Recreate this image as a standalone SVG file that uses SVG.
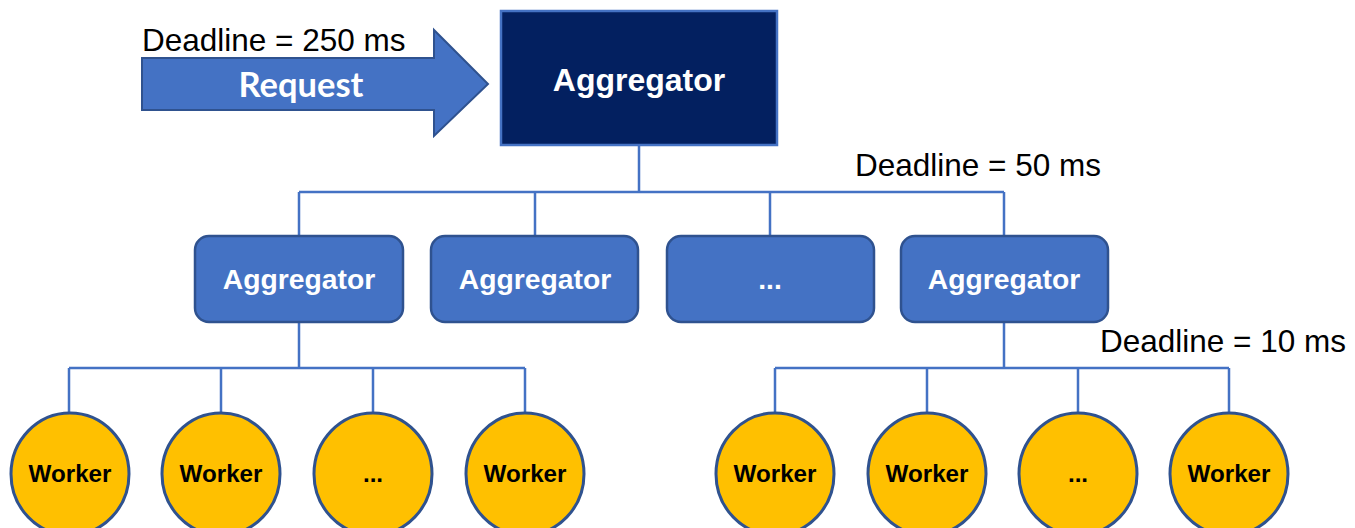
<svg xmlns="http://www.w3.org/2000/svg" width="1355" height="528" viewBox="0 0 1355 528">
  <style>
    .label { font-family: "Liberation Sans", Arial, sans-serif; font-size: 31.5px; fill: #000; }
    .agg-box { fill: #4472C4; stroke: #2F528F; stroke-width: 2.5; }
    .agg-text { font-family: "Liberation Sans", Arial, sans-serif; font-weight: bold; font-size: 28.3px; fill: #fff; text-anchor: middle; }
    .agg-text.root { font-size: 32px; }
    .worker { fill: #FFC000; stroke: #2F528F; stroke-width: 3; }
    .worker-text { font-family: "Liberation Sans", Arial, sans-serif; font-weight: bold; font-size: 24.2px; fill: #000; text-anchor: middle; }
    .wire { fill: none; stroke: #4472C4; stroke-width: 2.5; }
  </style>
  <rect width="1355" height="528" fill="#fff"/>

  <!-- connectors -->
  <g id="connectors" class="wire">
    <path d="M639 145 V192 M299 192 H1004 M299 192 V236 M535 192 V236 M770 192 V236 M1004 192 V236"/>
    <path d="M299 322 V368 M69 368 H525 M69 368 V413 M221 368 V413 M373 368 V413 M525 368 V413"/>
    <path d="M1004 322 V368 M775 368 H1229 M775 368 V413 M927 368 V413 M1078 368 V413 M1229 368 V413"/>
  </g>

  <!-- incoming request -->
  <g id="request">
    <polygon points="142,58 434,58 434,30 488,84 434,136 434,110 142,110" fill="#4472C4" stroke="#2F528F" stroke-width="2"/>
    <text x="301" y="97" font-family="Lato, 'Open Sans', sans-serif" font-weight="bold" font-size="34.5" fill="#fff" text-anchor="middle">Request</text>
  </g>
  <text id="deadline-250" class="label" x="142" y="51">Deadline = 250 ms</text>

  <!-- root aggregator -->
  <g id="root-aggregator">
    <rect x="501" y="11" width="276" height="134" fill="#032060" stroke="#4472C4" stroke-width="2.5"/>
    <text class="agg-text root" x="639" y="91">Aggregator</text>
  </g>
  <text id="deadline-50" class="label" x="855" y="176">Deadline = 50 ms</text>

  <!-- mid-level aggregators -->
  <g id="agg-1">
    <rect class="agg-box" x="195" y="236" width="208" height="86" rx="14"/>
    <text class="agg-text" x="299" y="289">Aggregator</text>
  </g>
  <g id="agg-2">
    <rect class="agg-box" x="431" y="236" width="207" height="86" rx="14"/>
    <text class="agg-text" x="535" y="289">Aggregator</text>
  </g>
  <g id="agg-3">
    <rect class="agg-box" x="667" y="236" width="207" height="86" rx="14"/>
    <text class="agg-text" x="770" y="289">...</text>
  </g>
  <g id="agg-4">
    <rect class="agg-box" x="901" y="236" width="207" height="86" rx="14"/>
    <text class="agg-text" x="1004" y="289">Aggregator</text>
  </g>
  <text id="deadline-10" class="label" x="1100" y="352">Deadline = 10 ms</text>

  <!-- workers under aggregator 1 -->
  <g id="worker-1"><ellipse class="worker" cx="70" cy="474" rx="59" ry="61"/><text class="worker-text" x="70" y="482">Worker</text></g>
  <g id="worker-2"><ellipse class="worker" cx="221" cy="474" rx="59" ry="61"/><text class="worker-text" x="221" y="482">Worker</text></g>
  <g id="worker-3"><ellipse class="worker" cx="373" cy="474" rx="59" ry="61"/><text class="worker-text" x="373" y="482">...</text></g>
  <g id="worker-4"><ellipse class="worker" cx="525" cy="474" rx="59" ry="61"/><text class="worker-text" x="525" y="482">Worker</text></g>

  <!-- workers under aggregator 4 -->
  <g id="worker-5"><ellipse class="worker" cx="775" cy="474" rx="59" ry="61"/><text class="worker-text" x="775" y="482">Worker</text></g>
  <g id="worker-6"><ellipse class="worker" cx="927" cy="474" rx="59" ry="61"/><text class="worker-text" x="927" y="482">Worker</text></g>
  <g id="worker-7"><ellipse class="worker" cx="1078" cy="474" rx="59" ry="61"/><text class="worker-text" x="1078" y="482">...</text></g>
  <g id="worker-8"><ellipse class="worker" cx="1229" cy="474" rx="59" ry="61"/><text class="worker-text" x="1229" y="482">Worker</text></g>
</svg>
